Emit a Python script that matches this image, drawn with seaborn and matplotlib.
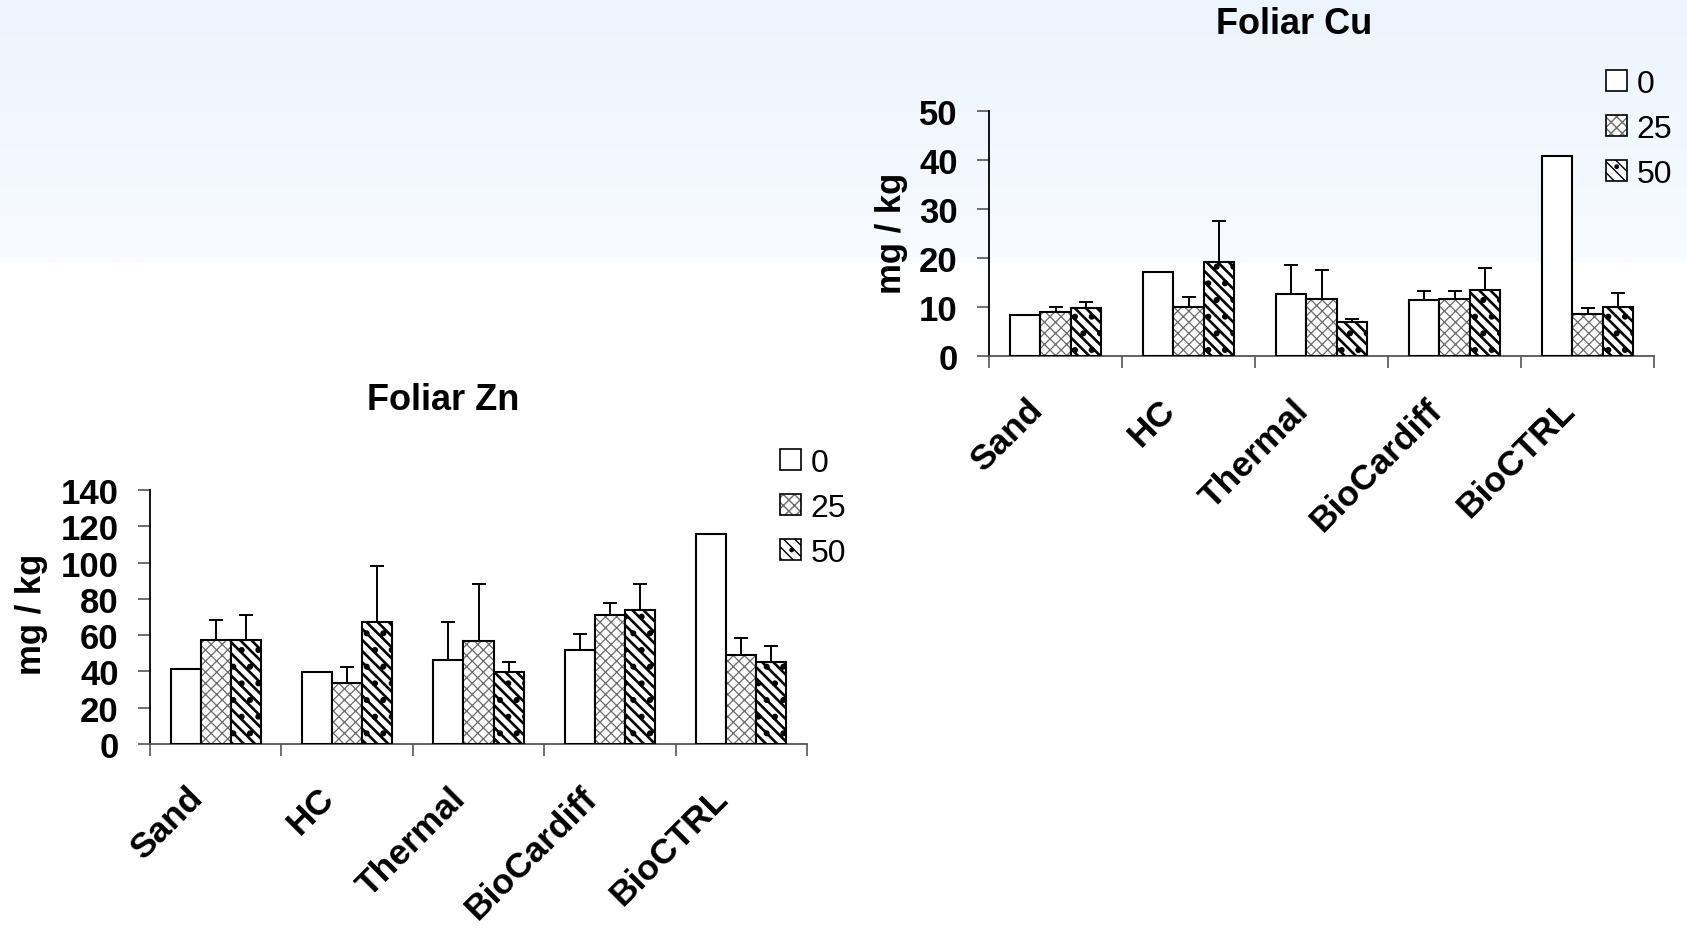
import numpy as np
import pandas as pd
import matplotlib
matplotlib.use("Agg")
import matplotlib.pyplot as plt
import matplotlib.patches as mpatches
import matplotlib.colors as mcolors
from matplotlib.transforms import ScaledTranslation
import seaborn as sns

# ---------------- data ----------------
sites = ["Sand", "HC", "Thermal", "BioCardiff", "BioCTRL"]
doses = ["0", "25", "50"]

cu_0 = [8.3, 17.2, 12.7, 11.4, 40.8]
cu_25 = [9.0, 10.0, 11.7, 11.7, 8.6]
cu_50 = [9.7, 19.1, 6.9, 13.5, 10.0]
cu_err_0 = [0.0, 0.0, 5.9, 1.8, 0.0]
cu_err_25 = [1.1, 2.1, 5.9, 1.5, 1.1]
cu_err_50 = [1.4, 8.5, 0.65, 4.5, 2.8]

zn_0 = [41.6, 39.7, 46.4, 51.9, 115.6]
zn_25 = [57.4, 33.4, 56.9, 70.9, 48.9]
zn_50 = [57.4, 67.2, 39.7, 73.9, 45.4]
zn_err_0 = [0.0, 0.0, 20.8, 8.7, 0.0]
zn_err_25 = [10.8, 9.3, 31.2, 7.0, 9.7]
zn_err_50 = [13.7, 30.7, 5.7, 14.2, 8.5]

cu_yticks = [0, 10, 20, 30, 40, 50]
zn_yticks = [0, 20, 40, 60, 80, 100, 120, 140]

# ---------------- style ----------------
sns.set_theme(style="white")
plt.rcParams["font.family"] = ["Liberation Sans", "DejaVu Sans"]
plt.rcParams["text.color"] = "black"
plt.rcParams["hatch.linewidth"] = 1.0

W, H = 1687, 929
fig = plt.figure(figsize=(W / 100, H / 100), dpi=100)
fig.patch.set_facecolor("white")

# background gradient band at the top
bg = fig.add_axes([0, 1 - 263 / H, 1, 263 / H], zorder=-10)
grad = np.linspace(0, 1, 256).reshape(-1, 1)
top = np.array(mcolors.to_rgb("#ecf4fd"))
bot = np.array(mcolors.to_rgb("#f8fbff"))
img = top[None, None, :] * (1 - grad[..., None]) + bot[None, None, :] * grad[..., None]
bg.imshow(img, aspect="auto", extent=[0, 1, 0, 1])
bg.set_axis_off()

hatches = ["", "xxx", "\\\\\\."]
hatch_lw = [1.0, 0.9, 1.9]
hatch_col = ["black", "#6a6a6a", "black"]

TICK_FS = 25
XT_FS = 25.5


def style_hatch(p, i):
    p.set_hatch(hatches[i])
    if hasattr(p, "set_hatch_linewidth"):
        p.set_hatch_linewidth(hatch_lw[i])
    if hasattr(p, "set_hatchcolor"):
        p.set_hatchcolor(hatch_col[i])
    else:
        p._hatch_color = mcolors.to_rgba(hatch_col[i])


def make_chart(rect, vals, errs, yticks, ymax):
    ax = fig.add_axes(rect)
    ax.patch.set_alpha(0)
    df = pd.DataFrame({
        "site": sites * 3,
        "dose": sum([[d] * len(sites) for d in doses], []),
        "value": vals[0] + vals[1] + vals[2],
    })
    sns.barplot(data=df, x="site", y="value", hue="dose", order=sites,
                hue_order=doses, palette=["white"] * 3, saturation=1,
                edgecolor="black", linewidth=1.5, width=0.685,
                errorbar=None, legend=False, ax=ax, zorder=3)
    bar_conts = list(ax.containers)
    for i, cont in enumerate(bar_conts):
        xs, ys, es = [], [], []
        for j, bar in enumerate(cont):
            style_hatch(bar, i)
            if errs[i][j] > 0:
                xs.append(bar.get_x() + bar.get_width() / 2)
                ys.append(vals[i][j])
                es.append(errs[i][j])
        if xs:
            ax.errorbar(xs, ys, yerr=[np.zeros(len(es)), es], fmt="none",
                        ecolor="black", elinewidth=1.4, capsize=5,
                        capthick=1.4, zorder=2)
    ax.set_xlim(-0.5, len(sites) - 0.5)
    ax.set_ylim(0, ymax)
    ax.set_yticks(yticks)
    ax.set_yticklabels([str(t) for t in yticks], fontsize=TICK_FS,
                       fontweight="bold", color="black")
    ax.set_xticks(range(len(sites)))
    ax.set_xticklabels(sites, rotation=45, ha="right", va="center",
                       rotation_mode="anchor", fontsize=XT_FS,
                       fontweight="bold", color="black")
    ax.set_xticks(np.arange(-0.5, len(sites), 1.0), minor=True)
    ax.tick_params(axis="x", which="major", length=0, pad=35)
    ax.tick_params(axis="x", which="minor", length=8.6, width=1.2,
                   color="#555555", direction="out", bottom=True)
    ax.tick_params(axis="y", which="major", length=8.6, width=1.2,
                   color="#555555", direction="out", pad=14, left=True)
    for lab in ax.get_xticklabels():
        lab.set_transform(lab.get_transform() +
                          ScaledTranslation(-13 / 72, 0, fig.dpi_scale_trans))
    ax.set_xlabel("")
    ax.set_ylabel("")
    for s in ["top", "right"]:
        ax.spines[s].set_visible(False)
    ax.spines["left"].set_color("black")
    ax.spines["left"].set_linewidth(1.3)
    ax.spines["bottom"].set_color("#555555")
    ax.spines["bottom"].set_linewidth(1.3)
    ax.grid(False)
    return ax


def px(x0, y_top, x1, y_bot):
    return [x0 / W, 1 - y_bot / H, (x1 - x0) / W, (y_bot - y_top) / H]


ax_cu = make_chart(px(989, 112, 1654, 357),
                   [cu_0, cu_25, cu_50], [cu_err_0, cu_err_25, cu_err_50],
                   cu_yticks, 50)
ax_zn = make_chart(px(150, 491, 807, 745),
                   [zn_0, zn_25, zn_50], [zn_err_0, zn_err_25, zn_err_50],
                   zn_yticks, 140)

# titles and y labels
fig.text(1294 / W, 1 - 24 / H, "Foliar Cu", ha="center", va="center",
         fontsize=26, fontweight="bold", color="black")
fig.text(443 / W, 1 - 401 / H, "Foliar Zn", ha="center", va="center",
         fontsize=26, fontweight="bold", color="black")
fig.text(891 / W, 1 - 233 / H, "mg / kg", ha="center", va="center",
         rotation=90, fontsize=TICK_FS, fontweight="bold", color="black")
fig.text(32 / W, 1 - 614 / H, "mg / kg", ha="center", va="center",
         rotation=90, fontsize=TICK_FS, fontweight="bold", color="black")

# legends
handles = []
for i, d in enumerate(doses):
    p = mpatches.Patch(facecolor="white", edgecolor="black",
                       linewidth=1.2, label=d)
    style_hatch(p, i)
    handles.append(p)

for ax, (lx, ly) in [(ax_cu, (1606, 70)), (ax_zn, (780, 449))]:
    leg = fig.legend(handles=handles, loc="upper left",
                     bbox_to_anchor=(lx / W, 1 - ly / H),
                     bbox_transform=fig.transFigure, frameon=False,
                     fontsize=23, handlelength=0.65, handleheight=0.65,
                     handletextpad=0.3, labelspacing=0.47, borderpad=0,
                     borderaxespad=0)
    for t in leg.get_texts():
        t.set_color("black")

fig.savefig("out.png", dpi=100, facecolor=fig.get_facecolor())
